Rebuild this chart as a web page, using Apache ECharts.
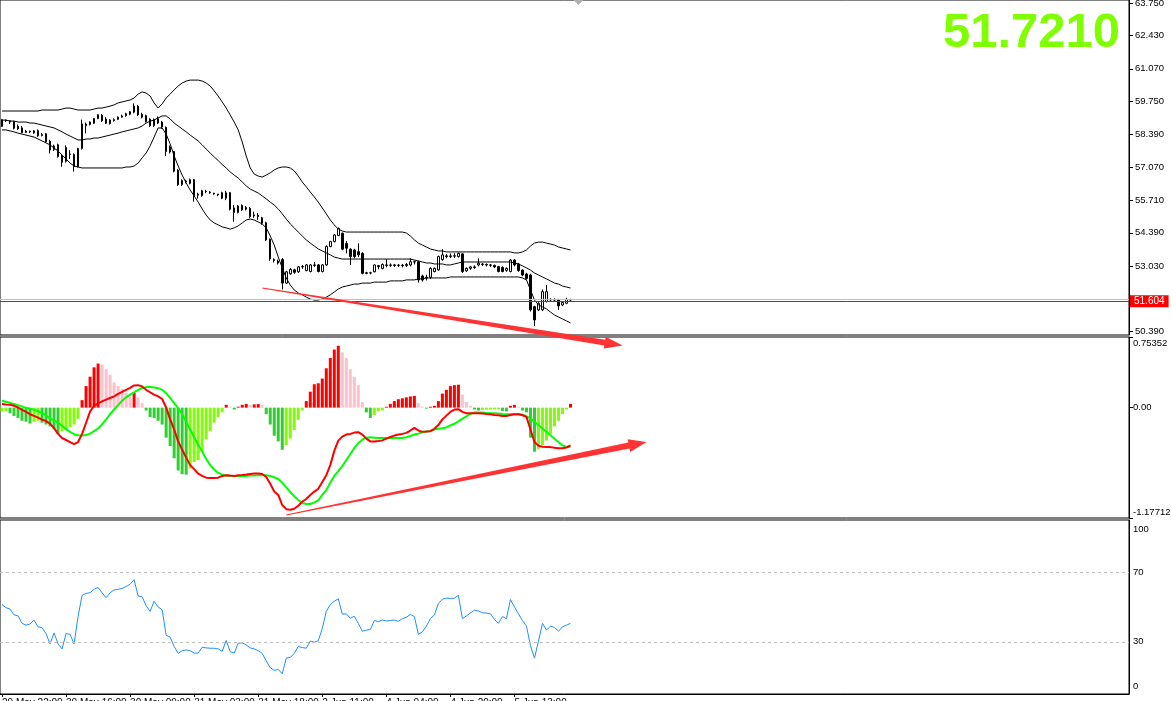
<!DOCTYPE html>
<html><head><meta charset="utf-8">
<script src="https://cdn.jsdelivr.net/npm/echarts/dist/echarts.min.js"></script>
<style>html,body{margin:0;padding:0;background:#fff;overflow:hidden}#c{width:1172px;height:701px}</style>
</head><body><div id="c"></div>
<script>
// ---------- DATA ----------
// candles: [open, close, low, high]
const ohlc = [
[58.72,59.00,58.70,59.02],[58.98,58.95,58.90,59.00],[58.95,58.90,58.82,58.96],[58.92,58.65,58.60,58.95],[58.72,58.62,58.58,58.80],
[58.66,58.47,58.44,58.74],[58.48,58.53,58.45,58.58],[58.53,58.50,58.45,58.55],[58.46,58.54,58.42,58.57],[58.55,58.34,58.30,58.60],
[58.35,58.40,58.32,58.45],[58.42,58.10,58.05,58.45],[58.12,57.76,57.62,58.18],[57.78,57.92,57.72,57.98],[57.98,57.50,57.45,58.02],
[57.52,57.26,57.08,57.60],[57.30,57.86,57.25,57.95],[57.60,57.58,57.40,57.75],[57.58,57.08,56.88,57.62],[57.08,57.82,57.05,57.85],
[57.82,58.82,57.78,59.00],[58.75,58.82,58.44,58.88],[58.80,58.90,58.76,58.93],[58.85,59.04,58.82,59.06],[59.04,59.20,59.02,59.22],
[59.18,58.95,58.90,59.22],[59.02,58.85,58.82,59.10],[58.98,58.84,58.80,59.02],[58.96,59.00,58.92,59.05],[59.01,59.10,58.98,59.13],
[59.10,59.15,59.08,59.20],[59.16,59.24,59.12,59.28],[59.22,59.32,59.18,59.35],[59.30,59.55,59.26,59.66],[59.55,59.20,59.15,59.60],
[59.22,59.10,59.05,59.28],[59.16,58.92,58.88,59.20],[59.02,58.75,58.70,59.05],[58.75,59.00,58.70,59.05],[59.04,58.86,58.82,59.13],
[58.90,58.70,58.62,58.95],[58.68,57.70,57.52,58.72],[57.88,57.68,57.62,57.95],[57.70,56.90,56.85,57.72],[56.94,56.35,56.30,56.98],
[56.35,56.52,56.30,56.56],[56.50,56.46,56.40,56.55],[56.40,56.55,56.36,56.60],[56.55,55.90,55.66,56.58],[55.92,55.96,55.78,56.02],
[55.90,56.10,55.86,56.14],[56.08,56.06,56.00,56.14],[56.05,56.02,55.98,56.08],[56.00,55.97,55.94,56.02],[55.96,55.93,55.88,55.98],
[56.02,55.80,55.76,56.06],[55.80,56.02,55.72,56.10],[56.02,55.35,55.30,56.05],[55.40,55.22,54.84,55.52],[55.22,55.48,55.18,55.52],
[55.50,55.32,55.28,55.55],[55.35,55.42,55.30,55.48],[55.38,55.05,54.98,55.44],[55.08,55.12,55.00,55.25],[55.10,55.05,54.92,55.20],
[55.00,54.78,54.72,55.04],[54.80,54.10,54.05,54.84],[54.12,53.32,53.25,54.16],[53.30,53.26,53.18,53.35],[53.24,53.16,53.10,53.30],
[53.30,52.34,52.08,53.36],[52.34,52.80,52.30,52.84],[52.72,52.90,52.68,52.95],[52.88,52.78,52.72,52.92],[52.80,53.00,52.76,53.04],
[53.00,53.02,52.92,53.08],[52.85,53.08,52.82,53.12],[52.81,53.08,52.78,53.12],[53.06,53.08,53.00,53.20],[53.08,52.81,52.78,53.12],
[52.81,53.08,52.78,53.12],[53.08,53.83,53.05,53.88],[53.83,54.03,53.80,54.06],[54.03,54.30,54.00,54.34],[54.28,54.57,54.25,54.60],
[54.37,53.72,53.68,54.40],[53.95,53.76,53.55,54.05],[53.72,53.42,53.08,53.76],[53.69,53.42,53.35,53.74],[53.62,53.49,53.40,53.96],
[53.55,52.74,52.70,53.60],[52.76,52.74,52.70,52.80],[52.75,52.76,52.70,52.80],[52.80,53.08,52.78,53.10],[53.05,53.01,52.90,53.08],
[52.94,53.10,52.90,53.14],[53.08,53.06,52.98,53.31],[53.06,53.08,53.00,53.14],[53.08,53.06,53.00,53.12],[53.06,53.07,53.00,53.12],
[53.07,53.05,52.98,53.12],[53.05,53.10,53.00,53.16],[53.08,53.21,53.02,53.35],[53.21,53.20,53.10,53.26],[53.21,52.47,52.36,53.26],
[52.63,52.47,52.40,52.68],[52.55,52.58,52.45,52.68],[52.58,52.94,52.50,52.98],[52.81,52.94,52.78,52.98],[52.88,53.42,52.84,53.46],
[53.30,53.49,53.25,53.72],[53.45,53.42,53.35,53.52],[53.42,53.45,53.36,53.55],[53.45,53.44,53.36,53.56],[53.42,53.55,53.38,53.58],
[53.53,52.81,52.76,53.56],[52.84,52.94,52.80,52.98],[52.94,53.00,52.88,53.04],[53.00,52.98,52.92,53.06],[53.08,53.15,53.02,53.35],
[53.12,53.10,53.04,53.16],[53.10,53.08,53.02,53.14],[53.08,53.07,53.00,53.12],[53.06,53.00,52.95,53.10],[53.01,52.81,52.78,53.04],
[52.98,52.81,52.78,53.02],[52.86,52.94,52.80,52.98],[52.81,53.28,52.78,53.32],[53.28,53.08,53.02,53.32],[53.12,52.85,52.80,53.16],
[52.87,52.67,52.62,52.90],[52.71,52.53,52.48,52.76],[52.67,51.25,51.18,52.72],[51.38,50.84,50.59,51.42],[51.25,51.52,51.20,51.56],
[51.25,51.99,51.20,52.08],[51.59,51.99,51.55,52.26],[51.68,51.65,51.58,51.72],[51.65,51.66,51.58,51.72],[51.66,51.41,51.25,51.70],
[51.45,51.55,51.40,51.60],[51.52,51.68,51.48,51.74],[51.66,51.65,51.58,51.70]
];

const bbUpper = [
59.35,59.35,59.35,59.35,59.35,59.35,59.35,59.35,59.35,59.35,
59.39,59.39,59.39,59.39,59.39,59.43,59.47,59.47,59.43,59.39,
59.39,59.39,59.39,59.43,59.47,59.47,59.51,59.55,59.60,59.68,
59.72,59.76,59.80,59.88,60.04,60.13,60.08,59.96,59.68,59.47,
59.64,59.88,60.04,60.21,60.37,60.49,60.57,60.61,60.61,60.61,
60.57,60.49,60.37,60.17,59.96,59.72,59.47,59.19,58.90,58.58,
58.09,57.52,57.03,56.78,56.70,56.66,56.74,56.83,56.95,57.03,
57.07,57.07,57.03,56.91,56.70,56.46,56.26,56.05,55.85,55.64,
55.40,55.16,54.91,54.71,54.54,54.46,54.42,54.42,54.42,54.42,
54.42,54.42,54.42,54.42,54.42,54.42,54.42,54.42,54.42,54.42,
54.42,54.38,54.26,54.10,53.97,53.89,53.81,53.73,53.69,53.65,
53.65,53.61,53.61,53.61,53.61,53.61,53.61,53.61,53.61,53.61,
53.61,53.61,53.61,53.61,53.61,53.61,53.61,53.61,53.57,53.57,
53.61,53.69,53.85,53.97,54.01,54.01,53.97,53.93,53.89,53.81,
53.77,53.73,53.69
];
const bbMiddle = [
58.98,58.98,58.94,58.94,58.90,58.90,58.90,58.86,58.86,58.82,
58.78,58.74,58.70,58.66,58.58,58.50,58.41,58.33,58.25,58.17,
58.17,58.21,58.21,58.25,58.25,58.29,58.33,58.37,58.41,58.45,
58.50,58.54,58.58,58.62,58.66,58.74,58.86,58.94,58.98,59.07,
59.15,59.15,59.03,58.86,58.74,58.62,58.50,58.37,58.25,58.13,
57.97,57.80,57.64,57.48,57.33,57.17,57.03,56.87,56.74,56.62,
56.46,56.30,56.17,56.09,56.01,55.89,55.77,55.64,55.52,55.36,
55.16,54.95,54.75,54.59,54.42,54.26,54.10,53.97,53.85,53.73,
53.65,53.57,53.49,53.40,53.36,53.32,53.32,53.32,53.32,53.32,
53.32,53.32,53.32,53.32,53.32,53.32,53.32,53.32,53.32,53.32,
53.32,53.32,53.32,53.28,53.24,53.20,53.16,53.16,53.12,53.12,
53.12,53.08,53.08,53.12,53.16,53.20,53.20,53.20,53.20,53.20,
53.20,53.20,53.20,53.20,53.20,53.20,53.20,53.20,53.16,53.12,
53.04,52.96,52.87,52.75,52.67,52.59,52.51,52.43,52.34,52.30,
52.22,52.18,52.14
];
const bbLower = [
58.58,58.58,58.54,58.50,58.45,58.41,58.37,58.33,58.29,58.21,
58.13,58.05,57.97,57.84,57.72,57.56,57.40,57.23,57.11,57.07,
57.03,57.03,57.03,57.03,57.03,57.03,57.03,57.03,57.03,57.03,
57.03,57.07,57.07,57.11,57.23,57.44,57.64,57.93,58.29,58.66,
58.66,58.41,58.01,57.52,57.11,56.74,56.42,56.13,55.89,55.64,
55.36,55.11,54.91,54.79,54.71,54.63,54.59,54.54,54.59,54.67,
54.79,54.91,54.95,54.91,54.83,54.75,54.59,54.26,53.89,53.40,
52.96,52.55,52.26,52.06,51.94,51.86,51.77,51.69,51.65,51.65,
51.69,51.77,51.86,51.98,52.10,52.18,52.22,52.26,52.30,52.30,
52.34,52.34,52.34,52.38,52.38,52.38,52.38,52.43,52.43,52.43,
52.43,52.47,52.47,52.47,52.51,52.51,52.55,52.55,52.55,52.55,
52.55,52.55,52.59,52.59,52.59,52.59,52.59,52.59,52.59,52.59,
52.59,52.59,52.59,52.59,52.59,52.59,52.59,52.59,52.59,52.59,
52.55,52.47,52.06,51.65,51.45,51.37,51.29,51.16,51.04,50.96,
50.88,50.80,50.72
];

const macdHist = [
-0.04,-0.04,-0.06,-0.09,-0.11,-0.14,-0.15,-0.17,-0.15,-0.14,
-0.16,-0.18,-0.20,-0.23,-0.28,-0.25,-0.23,-0.21,-0.18,-0.12,
0.08,0.23,0.33,0.43,0.47,0.46,0.41,0.35,0.27,0.23,
0.20,0.16,0.11,0.16,0.11,0.05,-0.03,-0.10,-0.11,-0.14,
-0.18,-0.32,-0.41,-0.54,-0.67,-0.71,-0.715,-0.65,-0.58,-0.56,
-0.47,-0.34,-0.25,-0.16,-0.10,-0.05,0.03,0.01,-0.02,0.01,
0.03,0.04,0.03,0.035,0.038,0.03,-0.07,-0.18,-0.30,-0.36,
-0.45,-0.40,-0.33,-0.24,-0.13,-0.03,0.07,0.17,0.25,0.26,
0.31,0.42,0.53,0.62,0.66,0.59,0.53,0.41,0.33,0.24,
0.06,-0.05,-0.11,-0.08,-0.04,-0.03,0.01,0.04,0.07,0.09,
0.10,0.11,0.12,0.125,0.05,0.01,-0.01,0.01,0.02,0.07,
0.15,0.19,0.23,0.24,0.245,0.14,0.06,0.02,-0.02,-0.03,
-0.025,-0.022,-0.02,-0.019,-0.018,-0.035,-0.04,0.02,0.03,0.01,
-0.03,-0.05,-0.32,-0.47,-0.44,-0.40,-0.35,-0.28,-0.20,-0.14,
-0.07,-0.02,0.04
];
const macdMain = [
0.038,0.034,0.031,0.020,0.002,-0.023,-0.045,-0.070,-0.088,-0.107,
-0.128,-0.143,-0.172,-0.219,-0.280,-0.324,-0.345,-0.367,-0.389,-0.367,
-0.280,-0.161,-0.042,0.020,0.045,0.067,0.085,0.103,0.121,0.146,
0.168,0.190,0.211,0.237,0.240,0.226,0.190,0.164,0.139,0.121,
0.092,0.002,-0.125,-0.233,-0.360,-0.450,-0.533,-0.613,-0.656,-0.703,
-0.728,-0.747,-0.750,-0.750,-0.747,-0.728,-0.721,-0.725,-0.728,-0.721,
-0.718,-0.714,-0.707,-0.703,-0.703,-0.707,-0.739,-0.812,-0.895,-0.931,
-1.039,-1.083,-1.090,-1.079,-1.047,-1.003,-0.974,-0.931,-0.895,-0.866,
-0.794,-0.721,-0.613,-0.461,-0.352,-0.309,-0.287,-0.280,-0.266,-0.262,
-0.287,-0.331,-0.360,-0.360,-0.356,-0.349,-0.331,-0.313,-0.298,-0.287,
-0.280,-0.269,-0.244,-0.215,-0.244,-0.258,-0.255,-0.251,-0.226,-0.186,
-0.125,-0.085,-0.045,-0.020,-0.016,-0.045,-0.060,-0.060,-0.060,-0.060,
-0.063,-0.067,-0.070,-0.078,-0.081,-0.089,-0.089,-0.078,-0.070,-0.070,
-0.081,-0.099,-0.233,-0.367,-0.407,-0.418,-0.421,-0.421,-0.428,-0.432,
-0.432,-0.425,-0.403
];
const macdSignal = [
0.074,0.063,0.052,0.038,0.027,0.013,-0.002,-0.013,-0.023,-0.038,
-0.056,-0.085,-0.114,-0.136,-0.161,-0.193,-0.230,-0.258,-0.284,-0.295,
-0.298,-0.291,-0.277,-0.251,-0.222,-0.179,-0.125,-0.070,-0.020,0.027,
0.074,0.110,0.139,0.164,0.190,0.208,0.219,0.219,0.215,0.208,
0.190,0.154,0.103,0.049,-0.005,-0.070,-0.150,-0.233,-0.316,-0.396,
-0.468,-0.548,-0.613,-0.660,-0.696,-0.714,-0.725,-0.728,-0.728,-0.728,
-0.728,-0.728,-0.725,-0.725,-0.721,-0.721,-0.721,-0.728,-0.743,-0.761,
-0.800,-0.850,-0.900,-0.945,-0.985,-1.018,-1.028,-1.028,-1.010,-0.989,
-0.931,-0.880,-0.801,-0.728,-0.678,-0.624,-0.559,-0.494,-0.432,-0.378,
-0.342,-0.320,-0.316,-0.320,-0.324,-0.324,-0.324,-0.324,-0.324,-0.324,
-0.324,-0.316,-0.302,-0.287,-0.277,-0.262,-0.255,-0.248,-0.233,-0.226,
-0.219,-0.211,-0.190,-0.172,-0.146,-0.117,-0.092,-0.067,-0.052,-0.052,
-0.052,-0.056,-0.060,-0.060,-0.063,-0.067,-0.070,-0.070,-0.070,-0.070,
-0.074,-0.092,-0.114,-0.150,-0.186,-0.222,-0.258,-0.295,-0.331,-0.367,
-0.403,-0.418,-0.421
];
const rsi = [
51.4,49.6,48.8,45.5,44.9,40.6,39.6,40.2,42.5,38.6,
38.2,34.7,28.8,35.1,28.8,25.9,34.7,34.3,28.8,44.5,
56.7,57.8,58.2,60.2,61.2,58.2,55.3,58.2,59.8,60.2,
60.6,61.8,63.1,65.7,56.3,55.9,50.8,47.5,53.3,50.0,
48.4,33.7,32.7,27.3,23.3,24.9,25.3,24.9,23.5,23.5,
26.9,26.5,26.3,26.3,25.9,24.5,30.8,24.3,23.5,29.2,
29.4,28.2,26.5,25.9,24.9,23.3,19.0,15.1,13.6,14.1,
11.6,20.6,21.0,23.3,27.3,26.7,26.3,30.4,29.8,30.6,
37.7,47.5,51.4,53.3,54.7,45.9,46.1,43.5,44.7,40.6,
36.1,36.7,37.1,42.2,41.6,42.5,42.0,42.2,42.5,41.8,
43.3,44.1,45.7,44.5,34.3,35.7,39.0,43.3,45.5,52.0,
54.5,55.1,54.9,55.1,56.7,43.3,44.9,46.5,48.1,47.7,
46.7,46.5,46.1,42.9,40.6,44.5,43.3,54.3,50.0,46.1,
42.2,39.0,27.8,20.6,30.4,40.6,36.7,39.0,38.2,36.1,
38.6,39.6,40.6
];

const priceTicks = [63.75, 62.43, 61.07, 59.75, 58.39, 57.07, 55.71, 54.39, 53.03, 50.39];
const priceMin = 50.226, priceMax = 63.872;
const macdTicks = [0.75352, 0, -1.17712];
const macdTickLabels = ['0.75352', '0.00', '-1.17712'];
const rsiTicks = [100, 70, 30, 0];
const rsiLevels = [70, 30];
const timeLabels = ['29 May 22:00','30 May 16:00','30 May 09:00','31 May 03:00','31 May 18:00','2 Jun 11:00','4 Jun 04:00','4 Jun 20:00','5 Jun 13:00'];
const barsPerLabel = 16;
const lastPrice = 51.604;
const askPrice = 51.68;
const bigQuote = '51.7210';
const CAT_COUNT = 282;
// annotation anchors in data units [barIndex, value]
const priceArrow = {from: [65, 52.14], to: [155, 49.80]};
const macdArrow = {from: [71, -1.145], to: [161, -0.366]};

// ---------- CHART ----------
const FONT = 'Liberation Sans, Arial, sans-serif';
const cats = Array.from({length: CAT_COUNT}, (_, i) => String(i));
const RED = '#ff0000', PINK = '#ffc0cb', GREEN = '#32cd32', LIME = '#7fff00';
const histData = macdHist.map((v, i) => {
  const p = i ? macdHist[i - 1] : v;
  let c;
  if (v >= 0) c = v > p ? RED : PINK; else c = v < p ? GREEN : LIME;
  return {value: v, itemStyle: {color: c}};
});

const chart = echarts.init(document.getElementById('c'), null, {renderer: 'canvas'});
const gridBase = {left: 0, right: 43, show: true, borderColor: '#000', borderWidth: 1,
  backgroundColor: 'transparent', containLabel: false, outerBoundsMode: 'none'};
const hiddenX = (g) => ({type: 'category', gridIndex: g, data: cats, boundaryGap: true, show: false});
const lblStyle = {color: '#000', fontSize: 9.5, fontFamily: FONT};
const near = (a, b) => Math.abs(a - b) < 1e-9;

chart.setOption({
  animation: false,
  backgroundColor: '#fff',
  textStyle: {fontFamily: FONT},
  title: {text: bigQuote, right: 52, top: 9, padding: 0,
    textStyle: {fontSize: 49, fontWeight: 'bold', color: '#7fff00', fontFamily: FONT}},
  grid: [
    Object.assign({top: 0, height: 335}, gridBase),
    Object.assign({top: 337, height: 181}, gridBase),
    Object.assign({top: 520, height: 174}, gridBase)
  ],
  xAxis: [
    hiddenX(0), hiddenX(1),
    {type: 'category', gridIndex: 2, data: cats, boundaryGap: true,
      axisLine: {show: true, lineStyle: {color: '#000', width: 1}},
      axisTick: {show: true, alignWithLabel: true, length: 3, lineStyle: {color: '#000'},
        interval: (i) => i % barsPerLabel === 0 && i / barsPerLabel < timeLabels.length},
      axisLabel: {show: true, align: 'left', margin: 4, color: '#000', fontSize: 10, fontFamily: FONT,
        hideOverlap: false,
        interval: (i) => i % barsPerLabel === 0 && i / barsPerLabel < timeLabels.length,
        formatter: (v, i) => timeLabels[i / barsPerLabel] || ''},
      splitLine: {show: false}}
  ],
  yAxis: [
    {type: 'value', gridIndex: 0, position: 'right', min: priceMin, max: priceMax,
      axisLine: {show: true, lineStyle: {color: '#000'}}, splitLine: {show: false},
      axisTick: {show: true, length: 4, customValues: priceTicks, lineStyle: {color: '#000'}},
      axisLabel: Object.assign({margin: 6, customValues: priceTicks, formatter: (v) => v.toFixed(3)}, lblStyle)},
    {type: 'value', gridIndex: 1, position: 'right', min: macdTicks[2], max: macdTicks[0],
      axisLine: {show: true, lineStyle: {color: '#000'}}, splitLine: {show: false},
      axisTick: {show: true, length: 4, customValues: macdTicks, lineStyle: {color: '#000'}},
      axisLabel: Object.assign({margin: 4, customValues: macdTicks,
        formatter: (v) => {
          const i = macdTicks.findIndex(t => near(t, v));
          const key = i === 0 ? 'top' : (i === 2 ? 'bot' : 'mid');
          return '{' + key + '|' + macdTickLabels[i] + '}';
        },
        rich: {top: Object.assign({padding: [12, 0, 0, 0]}, lblStyle), bot: Object.assign({padding: [0, 0, 12, 0]}, lblStyle), mid: Object.assign({}, lblStyle)}
      }, lblStyle)},
    {type: 'value', gridIndex: 2, position: 'right', min: 0, max: 100,
      axisLine: {show: true, lineStyle: {color: '#000'}}, splitLine: {show: false},
      axisTick: {show: false},
      axisLabel: Object.assign({margin: 4, customValues: rsiTicks,
        formatter: (v) => {
          const key = near(v, 100) ? 'top' : (near(v, 0) ? 'bot' : 'mid');
          return '{' + key + '|' + v + '}';
        },
        rich: {top: Object.assign({padding: [18, 0, 0, 0]}, lblStyle), bot: Object.assign({padding: [0, 0, 16, 0]}, lblStyle), mid: Object.assign({}, lblStyle)}
      }, lblStyle)}
  ],
  series: [
    {type: 'candlestick', xAxisIndex: 0, yAxisIndex: 0, data: ohlc, barWidth: 2,
      itemStyle: {color: '#ffffff', color0: '#000000', borderColor: '#000000', borderColor0: '#000000', borderWidth: 1},
      markLine: {silent: true, symbol: 'none', animation: false,
        data: [
          {yAxis: askPrice, lineStyle: {color: '#c0c0c0', type: 'solid', width: 1}, label: {show: false}},
          {yAxis: lastPrice, lineStyle: {color: '#ff0000', type: 'solid', width: 1},
            label: {show: true, position: 'end', distance: 1, formatter: () => lastPrice.toFixed(3),
              backgroundColor: '#ff0000', color: '#ffffff', padding: [1, 4, 1, 4], fontSize: 10, fontFamily: FONT}}
        ]}},
    {type: 'line', xAxisIndex: 0, yAxisIndex: 0, data: bbUpper, symbol: 'none', lineStyle: {color: '#000', width: 1}},
    {type: 'line', xAxisIndex: 0, yAxisIndex: 0, data: bbMiddle, symbol: 'none', lineStyle: {color: '#000', width: 1}},
    {type: 'line', xAxisIndex: 0, yAxisIndex: 0, data: bbLower, symbol: 'none', lineStyle: {color: '#000', width: 1}},
    {type: 'bar', xAxisIndex: 1, yAxisIndex: 1, data: histData, barWidth: 3},
    {type: 'line', xAxisIndex: 1, yAxisIndex: 1, data: macdMain, symbol: 'none', lineStyle: {color: '#ff0000', width: 2}, z: 5},
    {type: 'line', xAxisIndex: 1, yAxisIndex: 1, data: macdSignal, symbol: 'none', lineStyle: {color: '#00ff00', width: 2}, z: 4},
    {type: 'line', xAxisIndex: 2, yAxisIndex: 2, data: rsi, symbol: 'none', lineStyle: {color: '#1e90ff', width: 1},
      markLine: {silent: true, symbol: 'none', animation: false, label: {show: false},
        lineStyle: {color: '#c0c0c0', type: [3, 3], width: 1},
        data: rsiLevels.map(v => ({yAxis: v}))}}
  ]
});

function arrowPoints(p0, p1, w0, w1, headLen, headW) {
  const dx = p1[0] - p0[0], dy = p1[1] - p0[1];
  const L = Math.hypot(dx, dy);
  const ux = dx / L, uy = dy / L, nx = -uy, ny = ux;
  const b = [p1[0] - ux * headLen, p1[1] - uy * headLen];
  return [
    [p0[0] + nx * w0 / 2, p0[1] + ny * w0 / 2],
    [b[0] + nx * w1 / 2, b[1] + ny * w1 / 2],
    [b[0] + nx * headW / 2, b[1] + ny * headW / 2],
    [p1[0], p1[1]],
    [b[0] - nx * headW / 2, b[1] - ny * headW / 2],
    [b[0] - nx * w1 / 2, b[1] - ny * w1 / 2],
    [p0[0] - nx * w0 / 2, p0[1] - ny * w0 / 2]
  ];
}
const pa0 = chart.convertToPixel({gridIndex: 0}, priceArrow.from);
const pa1 = chart.convertToPixel({gridIndex: 0}, priceArrow.to);
const ma0 = chart.convertToPixel({gridIndex: 1}, macdArrow.from);
const ma1 = chart.convertToPixel({gridIndex: 1}, macdArrow.to);
const shiftX = chart.convertToPixel({gridIndex: 0}, [143, priceMax])[0];
chart.setOption({
  graphic: [
    {type: 'polygon', z: 100, shape: {points: arrowPoints(pa0, pa1, 1, 6, 18, 12)}, style: {fill: '#ff3333'}},
    {type: 'polygon', z: 100, shape: {points: arrowPoints(ma0, ma1, 1, 6, 18, 13)}, style: {fill: '#ff3333'}},
    {type: 'polygon', z: 100, shape: {points: [[shiftX - 1, 0], [shiftX + 9, 0], [shiftX + 4, 5]]}, style: {fill: '#b0b0b0'}}
  ]
});
</script>
</body></html>
